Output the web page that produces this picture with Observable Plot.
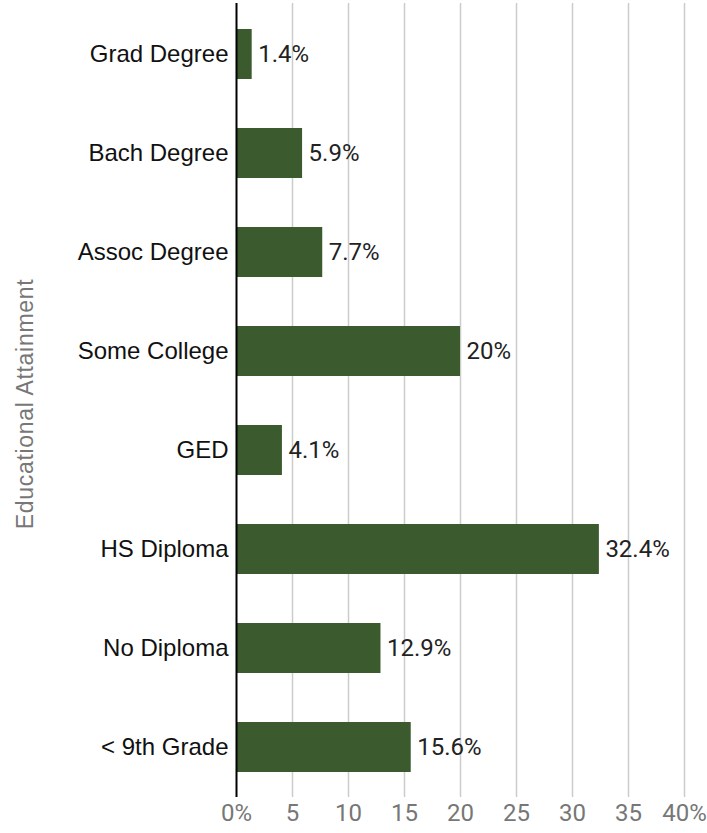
<!DOCTYPE html>
<html><head><meta charset="utf-8">
<script src="https://cdn.jsdelivr.net/npm/d3@7"></script>
<script src="https://cdn.jsdelivr.net/npm/@observablehq/plot@0.6"></script>
<style>body{margin:0;background:#fff;} svg{display:block;}</style>
</head><body><div id="chart"></div>
<script>
const categories = ["Grad Degree","Bach Degree","Assoc Degree","Some College","GED","HS Diploma","No Diploma","< 9th Grade"];
const values = [1.4, 5.9, 7.7, 20, 4.1, 32.4, 12.9, 15.6];
const xTicks = [0,5,10,15,20,25,30,35,40];
const xTickLabels = ["0%","5","10","15","20","25","30","35","40%"];
const yTitle = "Educational Attainment";
const data = categories.map((c,i)=>({cat:c, v:values[i]}));

const chart = Plot.plot({
  width: 707, height: 833,
  marginLeft: 236, marginRight: 23, marginTop: 3, marginBottom: 36,
  style: {fontFamily: "Roboto, sans-serif", fontSize: "24px", background: "#fff", overflow: "visible"},
  x: {domain: [0,40], ticks: xTicks, tickFormat: (d)=>xTickLabels[xTicks.indexOf(d)], label: null},
  y: {domain: categories, paddingInner: 0.5, paddingOuter: 0.25, label: null},
  marks: [
    Plot.gridX(xTicks.slice(1), {stroke: "#cccccc", strokeOpacity: 1, strokeWidth: 1.5}),
    Plot.barX(data, {x: "v", y: "cat", fill: "#3b5a2d"}),
    Plot.text(data, {x: "v", y: "cat", text: d => d.v + "%", textAnchor: "start", dx: 6, fontSize: 24, fill: "#222"}),
    Plot.axisX({ticks: xTicks, tickFormat: (d)=>xTickLabels[xTicks.indexOf(d)], tickSize: 0, tickPadding: 6, fontSize: 24, color: "#777", label: null}),
    Plot.axisY({tickSize: 0, tickPadding: 8, fontSize: 24, fontFamily: "'Liberation Sans', Arial, sans-serif", fill: "#111", label: null}),
    Plot.ruleX([0], {stroke: "#000", strokeWidth: 2}),
    Plot.ruleY([0], {stroke: "#000", strokeWidth: 2})
  ]
});
const svg = d3.select(chart);
svg.append("text")
  .attr("transform", "translate(33,404) rotate(-90)")
  .attr("text-anchor", "middle")
  .style("font-family", "'Liberation Sans', Arial, sans-serif")
  .style("font-size", "23px")
  .style("letter-spacing", "0.7px")
  .attr("fill", "#777")
  .text(yTitle);
document.getElementById("chart").append(chart);
</script>
</body></html>
